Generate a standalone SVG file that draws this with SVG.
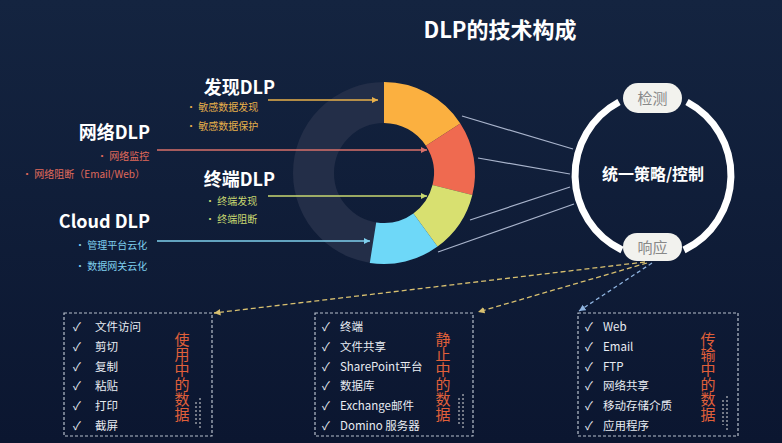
<svg xmlns="http://www.w3.org/2000/svg" width="782" height="443" viewBox="0 0 782 443">
<defs>
<linearGradient id="bg" x1="0" y1="0" x2="0" y2="1"><stop offset="0" stop-color="#142440"/><stop offset="1" stop-color="#0b1630"/></linearGradient>
<marker id="ah" markerWidth="6" markerHeight="6" refX="5" refY="3" orient="auto"><path d="M0,0.5 L5,3 L0,5.5 Z" fill="context-stroke"/></marker>
</defs>
<style>
text{font-family:"Noto Sans CJK SC","Liberation Sans",sans-serif}
.h{font-size:18px;font-weight:bold;fill:#fff}
.b{font-size:10px}
.l{font-size:11.5px;fill:#e8ecf2}
.v{font-size:15px;fill:#e0603a}
.box{fill:none;stroke:#b8c0cc;stroke-width:1.2;stroke-dasharray:3 2}
.link{stroke:#a9b4cc;stroke-width:1.2;fill:none}
</style>
<rect width="782" height="443" fill="url(#bg)"/>
<text x="500" y="38" text-anchor="middle" style="font-size:22px;font-weight:bold;fill:#fff">DLP的技术构成</text>

<g id="donut">
<circle cx="384" cy="173" r="70.5" fill="none" stroke="#232e48" stroke-width="41"/>
<path d="M384,82 A91,91 0 0 1 460.3,123.4 L425.9,145.8 A50,50 0 0 0 384,123 Z" fill="#fbb040"/>
<path d="M460.3,123.4 A91,91 0 0 1 472.3,195 L432.5,185.1 A50,50 0 0 0 425.9,145.8 Z" fill="#ef6a50"/>
<path d="M472.3,195 A91,91 0 0 1 437.5,246.6 L413.4,213.5 A50,50 0 0 0 432.5,185.1 Z" fill="#d8e070"/>
<path d="M437.5,246.6 A91,91 0 0 1 369.8,262.9 L376.2,222.4 A50,50 0 0 0 413.4,213.5 Z" fill="#6ed8f8"/>
</g>

<g id="control">
<path d="M619,102 A83,83 0 0 0 622,250" fill="none" stroke="#fff" stroke-width="7"/>
<path d="M687,102 A83,83 0 0 1 684,250" fill="none" stroke="#fff" stroke-width="7"/>
<text x="653" y="180" text-anchor="middle" style="font-size:16px;font-weight:bold;fill:#fff">统一策略/控制</text>
</g>
<g id="detect"><rect x="623" y="83" width="59" height="30" rx="15" fill="#f2f2ee"/><text x="652.5" y="104" text-anchor="middle" style="font-size:15px;fill:#888">检测</text></g>
<g id="respond"><rect x="623" y="233" width="59" height="28" rx="14" fill="#f2f2ee"/><text x="652.5" y="253" text-anchor="middle" style="font-size:15px;fill:#888">响应</text></g>

<g id="connectors">
<line x1="268" y1="100" x2="378" y2="100" stroke="#e8b04a" stroke-width="1.3" marker-end="url(#ah)"/>
<line x1="157" y1="150" x2="427" y2="150" stroke="#d8706a" stroke-width="1.3" marker-end="url(#ah)"/>
<line x1="268" y1="196" x2="427" y2="196" stroke="#c8d870" stroke-width="1.3" marker-end="url(#ah)"/>
<line x1="157" y1="241" x2="370" y2="241" stroke="#7fd0ee" stroke-width="1.3" marker-end="url(#ah)"/>
<line class="link" x1="462" y1="116" x2="573" y2="149"/>
<line class="link" x1="478" y1="158" x2="570" y2="174"/>
<line class="link" x1="470" y1="220" x2="570" y2="187"/>
<line class="link" x1="438" y1="252" x2="574" y2="204"/>
<line x1="645" y1="262" x2="214" y2="313" stroke="#d8c070" stroke-width="1.3" stroke-dasharray="5 3" marker-end="url(#ah)"/>
<line x1="647" y1="263" x2="478" y2="312" stroke="#d8c070" stroke-width="1.3" stroke-dasharray="5 3" marker-end="url(#ah)"/>
<line x1="652" y1="263" x2="579" y2="311" stroke="#8fb4e0" stroke-width="1.3" stroke-dasharray="4 3" marker-end="url(#ah)"/>
</g>

<g id="discover">
<text class="h" x="275" y="94" text-anchor="end">发现DLP</text>
<text class="b" x="186" y="111" fill="#e8b04a">•  敏感数据发现</text>
<text class="b" x="186" y="130" fill="#e8b04a">•  敏感数据保护</text>
</g>
<g id="network">
<text class="h" x="150" y="139" text-anchor="end">网络DLP</text>
<text class="b" x="97" y="160" fill="#e06a5a">•  网络监控</text>
<text class="b" x="22" y="178" fill="#e06a5a">•  网络阻断（Email/Web）</text>
</g>
<g id="endpoint">
<text class="h" x="275" y="186" text-anchor="end">终端DLP</text>
<text class="b" x="205" y="205" fill="#c8d870">•  终端发现</text>
<text class="b" x="205" y="223" fill="#c8d870">•  终端阻断</text>
</g>
<g id="cloud">
<text class="h" x="150" y="228" text-anchor="end">Cloud DLP</text>
<text class="b" x="75" y="249" fill="#7fd0ee">•  管理平台云化</text>
<text class="b" x="75" y="270" fill="#7fd0ee">•  数据网关云化</text>
</g>

<g id="inuse">
<rect class="box" x="64" y="313" width="148" height="123"/>
<g class="l">
<text x="73" y="331">✓</text><text x="95" y="331">文件访问</text>
<text x="73" y="351">✓</text><text x="95" y="351">剪切</text>
<text x="73" y="371">✓</text><text x="95" y="371">复制</text>
<text x="73" y="390">✓</text><text x="95" y="390">粘贴</text>
<text x="73" y="410">✓</text><text x="95" y="410">打印</text>
<text x="73" y="430">✓</text><text x="95" y="430">截屏</text>
</g>
<text class="v" x="182" writing-mode="vertical-rl" y="332">使用中的数据</text>
<path d="M196,402 V425 M200,398 V430" stroke="#ddd" stroke-width="1" stroke-dasharray="2 2"/>
</g>
<g id="atrest">
<rect class="box" x="315" y="313" width="158" height="123"/>
<g class="l">
<text x="322" y="331">✓</text><text x="340" y="331">终端</text>
<text x="322" y="351">✓</text><text x="340" y="351">文件共享</text>
<text x="322" y="371">✓</text><text x="340" y="371">SharePoint平台</text>
<text x="322" y="390">✓</text><text x="340" y="390">数据库</text>
<text x="322" y="410">✓</text><text x="340" y="410">Exchange邮件</text>
<text x="322" y="430">✓</text><text x="340" y="430">Domino 服务器</text>
</g>
<text class="v" x="443" writing-mode="vertical-rl" y="332">静止中的数据</text>
<path d="M459,398 V425 M463,394 V430" stroke="#ddd" stroke-width="1" stroke-dasharray="2 2"/>
</g>
<g id="intransit">
<rect class="box" x="578" y="313" width="160" height="123"/>
<g class="l">
<text x="585" y="331">✓</text><text x="603" y="331">Web</text>
<text x="585" y="351">✓</text><text x="603" y="351">Email</text>
<text x="585" y="371">✓</text><text x="603" y="371">FTP</text>
<text x="585" y="390">✓</text><text x="603" y="390">网络共享</text>
<text x="585" y="410">✓</text><text x="603" y="410">移动存储介质</text>
<text x="585" y="430">✓</text><text x="603" y="430">应用程序</text>
</g>
<text class="v" x="708" writing-mode="vertical-rl" y="332">传输中的数据</text>
<path d="M723,400 V425 M727,396 V430" stroke="#ddd" stroke-width="1" stroke-dasharray="2 2"/>
</g>
</svg>
